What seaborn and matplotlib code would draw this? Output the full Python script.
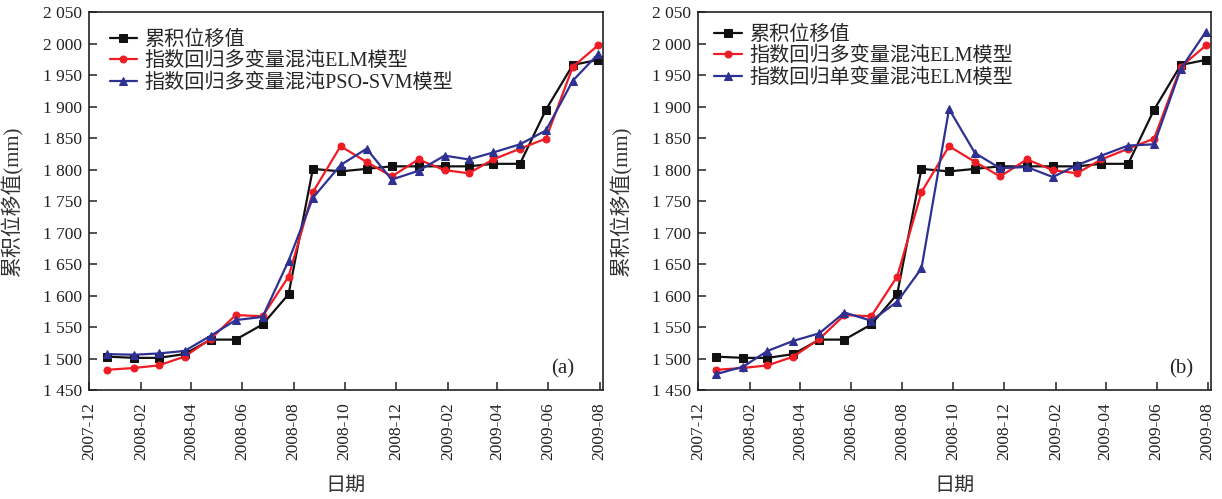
import numpy as np
import pandas as pd
import matplotlib
matplotlib.use("Agg")
import matplotlib.pyplot as plt
import matplotlib.dates as mdates
from matplotlib.ticker import FuncFormatter
import seaborn as sns


# observation dates (roughly monthly)
dates = ["2007-12-22", "2008-01-24", "2008-02-22", "2008-03-24", "2008-04-24",
         "2008-05-24", "2008-06-25", "2008-07-26", "2008-08-24", "2008-09-26",
         "2008-10-27", "2008-11-26", "2008-12-28", "2009-01-28", "2009-02-26",
         "2009-03-27", "2009-04-28", "2009-05-29", "2009-06-30", "2009-07-30"]

measured = [1503, 1501, 1501, 1507, 1530, 1530, 1554, 1602, 1801, 1797,
            1801, 1805, 1805, 1805, 1805, 1809, 1809, 1895, 1966, 1974]
elm_multi = [1482, 1485, 1489, 1503, 1531, 1569, 1567, 1630, 1764, 1837,
             1812, 1789, 1816, 1799, 1794, 1816, 1833, 1849, 1963, 1997]
pso_svm = [1507, 1506, 1508, 1512, 1536, 1561, 1566, 1655, 1755, 1807,
           1833, 1784, 1798, 1822, 1816, 1827, 1840, 1862, 1941, 1983]
elm_single = [1475, 1487, 1512, 1528, 1540, 1573, 1560, 1590, 1643, 1896,
              1826, 1802, 1804, 1788, 1807, 1822, 1838, 1840, 1960, 2019]

labels_a = ["累积位移值", "指数回归多变量混沌ELM模型", "指数回归多变量混沌PSO-SVM模型"]
labels_b = ["累积位移值", "指数回归多变量混沌ELM模型", "指数回归单变量混沌ELM模型"]

x = pd.to_datetime(dates)

sns.set_style("ticks")
fonts = ["Liberation Serif", "Noto Sans CJK SC"]
plt.rcParams["font.family"] = fonts
plt.rcParams["axes.unicode_minus"] = False

colors = ["#111111", "#ee1c25", "#2e3192"]
markers = ["s", "o", "^"]
msizes = [5.5, 5, 6]

fig = plt.figure(figsize=(12.22, 4.99), dpi=100)
ax1 = fig.add_axes([89 / 1222, 109 / 499, 514 / 1222, 378 / 499])
ax2 = fig.add_axes([698 / 1222, 109 / 499, 513 / 1222, 378 / 499])


def draw(ax, series, labels, tag, tag_x, leg_anchor):
    for s, lab, c, m, ms in zip(series, labels, colors, markers, msizes):
        sns.lineplot(x=x, y=s, ax=ax, color=c, marker=m, markersize=ms,
                     markeredgecolor=c, linewidth=1.6, label=lab)
    ax.set_ylim(1450, 2050)
    ax.set_yticks(np.arange(1450, 2051, 50))
    ax.yaxis.set_major_formatter(FuncFormatter(
        lambda v, p: "{:,}".format(int(v)).replace(",", " ")))
    ax.set_xlim(pd.Timestamp("2007-12-01"), pd.Timestamp("2009-08-05"))
    ax.xaxis.set_major_locator(mdates.MonthLocator(bymonth=[2, 4, 6, 8, 10, 12]))
    ax.xaxis.set_major_formatter(mdates.DateFormatter("%Y-%m"))
    ax.tick_params(axis="both", direction="in", length=6, width=1.1,
                   labelsize=12.5, colors="#222222")
    ax.tick_params(axis="x", pad=9, labelrotation=90)
    ax.tick_params(axis="y", pad=5)
    for sp in ax.spines.values():
        sp.set_linewidth(1.2)
        sp.set_color("#222222")
    ax.set_xlabel("日期", fontsize=14.5, color="#333333")
    ax.set_ylabel("累积位移值(mm)", fontsize=15, color="#333333")
    ax.xaxis.set_label_coords(0.5, -0.23)
    ax.yaxis.set_label_coords(-0.127, 0.5)
    ax.text(tag_x, 0.055, tag, transform=ax.transAxes, fontsize=15,
            ha="center", va="center")
    ax.legend(loc="upper left", bbox_to_anchor=leg_anchor, frameon=False,
              fontsize=14.5, handlelength=1.35, handletextpad=0.4,
              labelspacing=0.1, borderpad=0, borderaxespad=0, numpoints=1)


draw(ax1, [measured, elm_multi, pso_svm], labels_a, "(a)", 0.922, (0.04, 0.95))
draw(ax2, [measured, elm_multi, elm_single], labels_b, "(b)", 0.941, (0.032, 0.963))

fig.savefig("out.png", dpi=100)
